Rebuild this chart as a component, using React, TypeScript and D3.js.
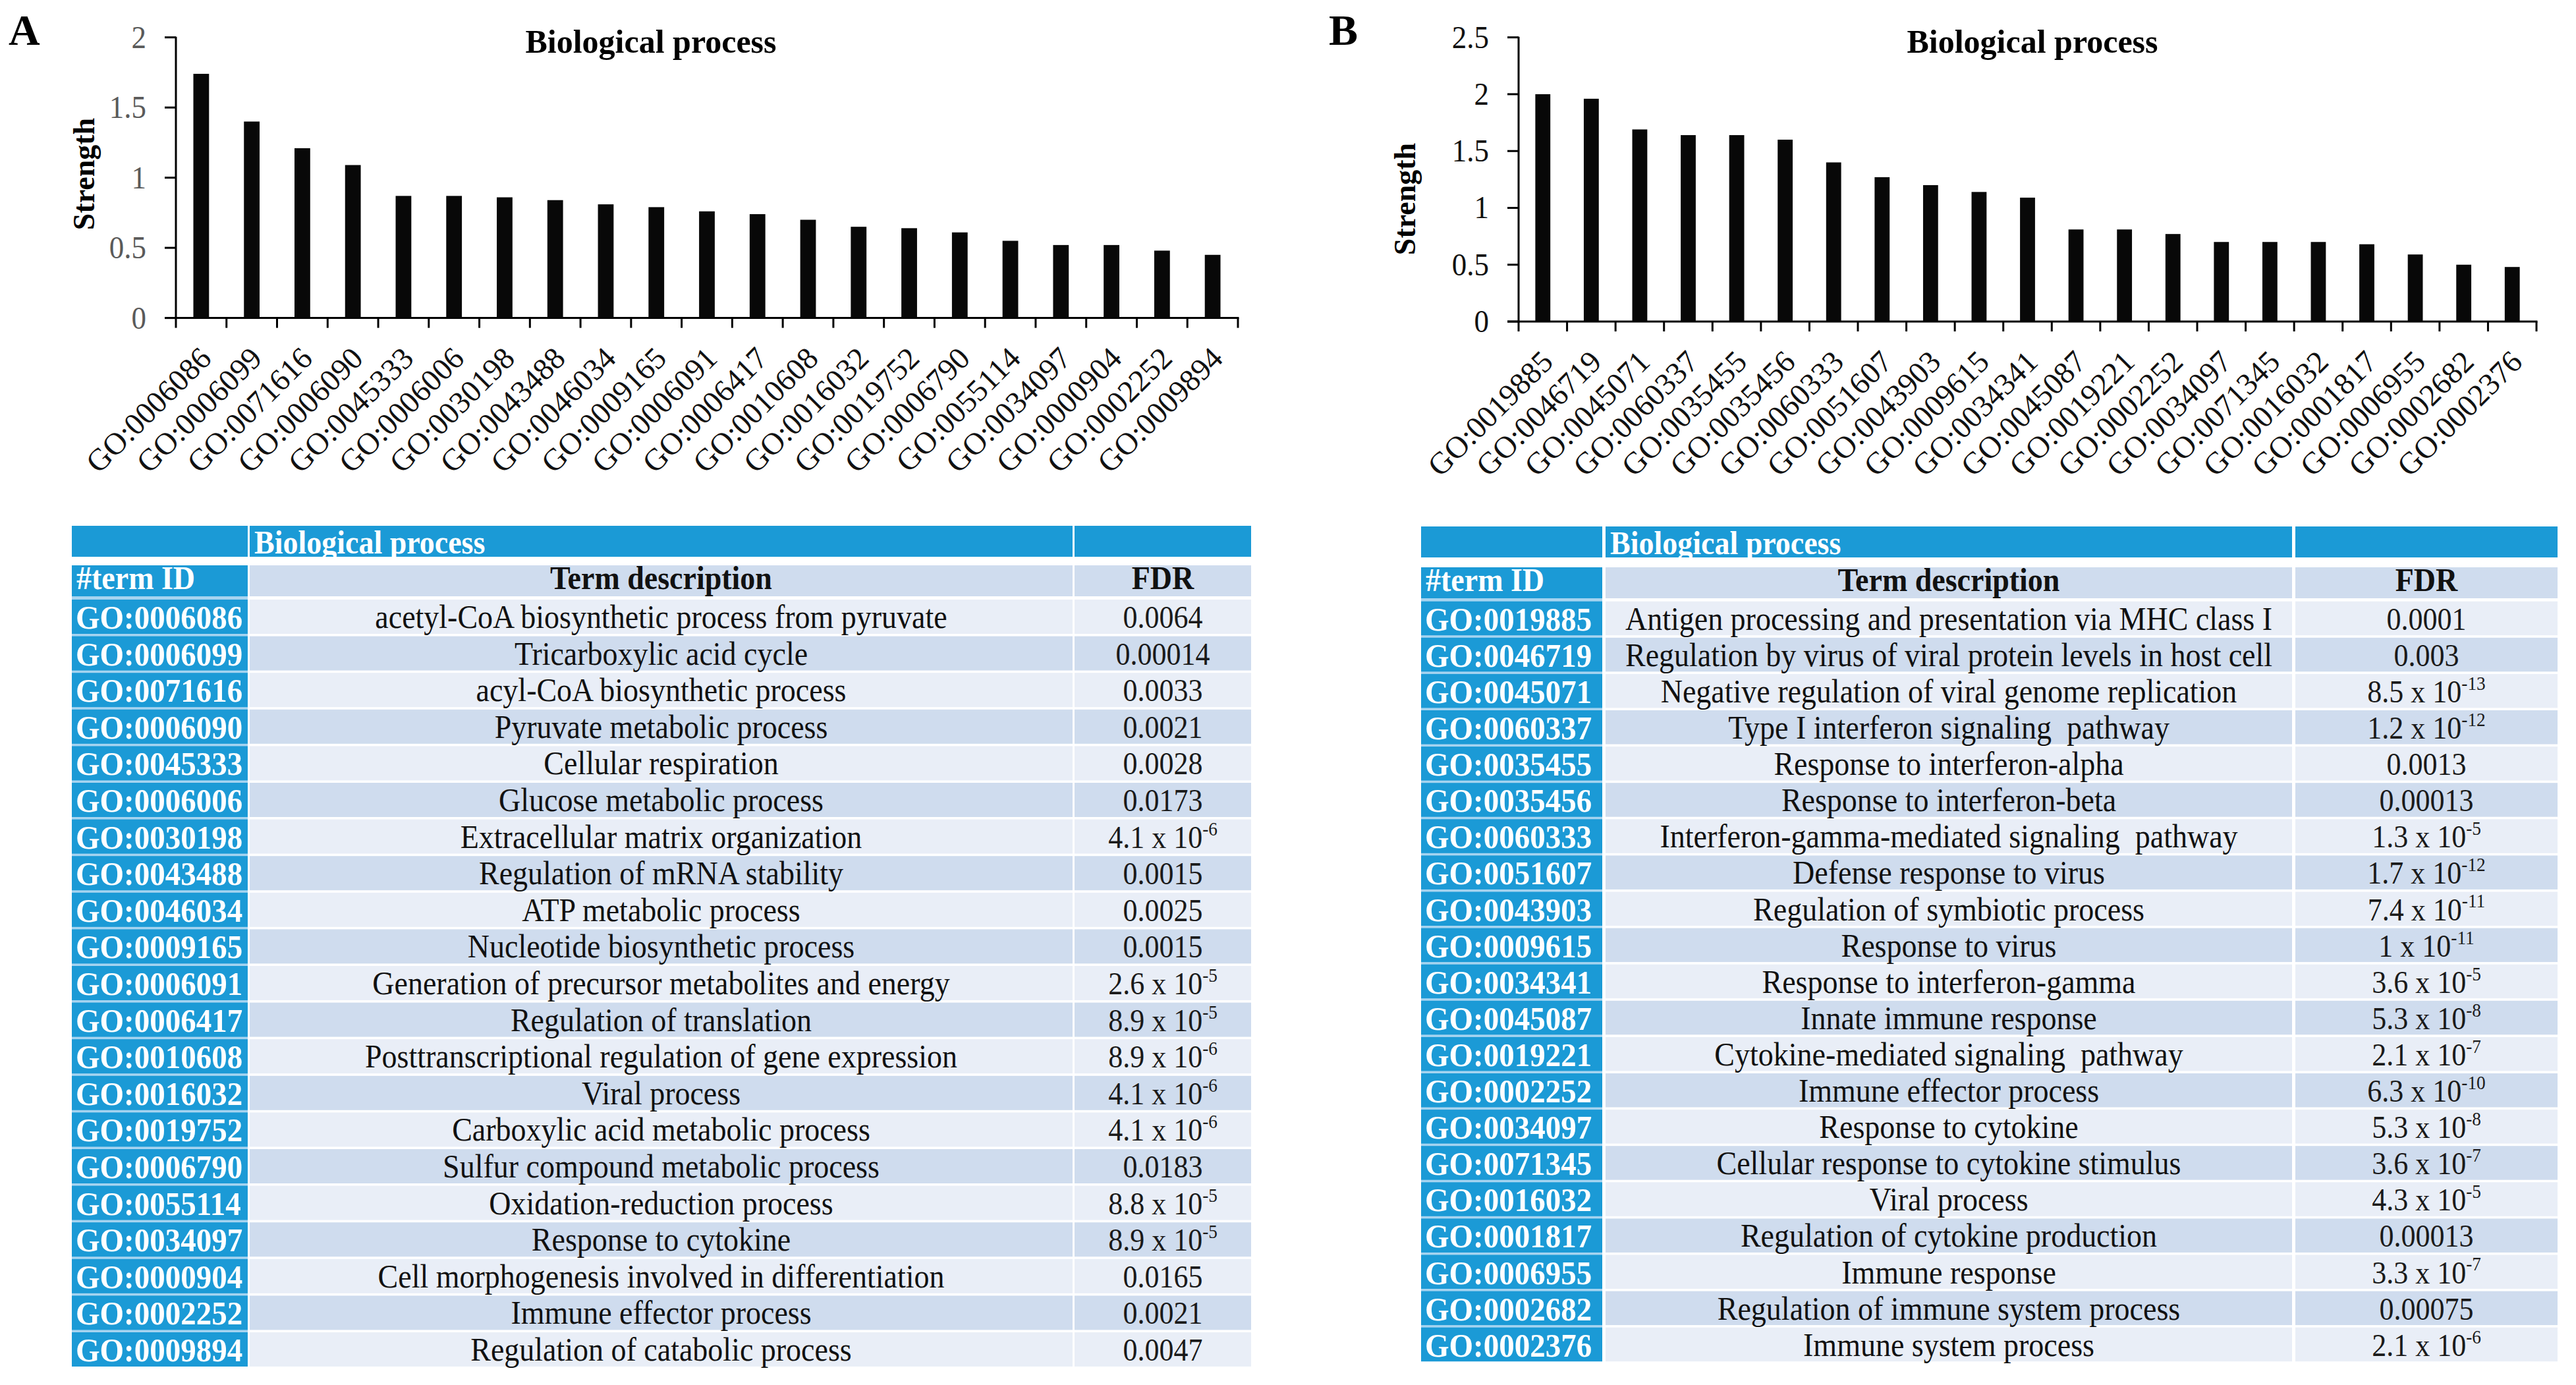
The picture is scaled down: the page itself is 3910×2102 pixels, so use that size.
import React from "react";
import * as d3 from "d3";

// ---------------- DATA ----------------
const idsA = [
  "GO:0006086", "GO:0006099", "GO:0071616", "GO:0006090", "GO:0045333", "GO:0006006", "GO:0030198",
  "GO:0043488", "GO:0046034", "GO:0009165", "GO:0006091", "GO:0006417", "GO:0010608", "GO:0016032",
  "GO:0019752", "GO:0006790", "GO:0055114", "GO:0034097", "GO:0000904", "GO:0002252", "GO:0009894",
];
const strengthA = [1.74, 1.4, 1.21, 1.09, 0.87, 0.87, 0.86, 0.84, 0.81, 0.79, 0.76, 0.74, 0.7, 0.65, 0.64, 0.61, 0.55, 0.52, 0.52, 0.48, 0.45];
const descA = [
  "acetyl-CoA biosynthetic process from pyruvate", "Tricarboxylic acid cycle", "acyl-CoA biosynthetic process",
  "Pyruvate metabolic process", "Cellular respiration", "Glucose metabolic process", "Extracellular matrix organization",
  "Regulation of mRNA stability", "ATP metabolic process", "Nucleotide biosynthetic process",
  "Generation of precursor metabolites and energy", "Regulation of translation",
  "Posttranscriptional regulation of gene expression", "Viral process", "Carboxylic acid metabolic process",
  "Sulfur compound metabolic process", "Oxidation-reduction process", "Response to cytokine",
  "Cell morphogenesis involved in differentiation", "Immune effector process", "Regulation of catabolic process",
];
const fdrA = [
  "0.0064", "0.00014", "0.0033", "0.0021", "0.0028", "0.0173", "4.1e-6", "0.0015", "0.0025", "0.0015",
  "2.6e-5", "8.9e-5", "8.9e-6", "4.1e-6", "4.1e-6", "0.0183", "8.8e-5", "8.9e-5", "0.0165", "0.0021", "0.0047",
];

const idsB = [
  "GO:0019885", "GO:0046719", "GO:0045071", "GO:0060337", "GO:0035455", "GO:0035456", "GO:0060333",
  "GO:0051607", "GO:0043903", "GO:0009615", "GO:0034341", "GO:0045087", "GO:0019221", "GO:0002252",
  "GO:0034097", "GO:0071345", "GO:0016032", "GO:0001817", "GO:0006955", "GO:0002682", "GO:0002376",
];
const strengthB = [2.0, 1.96, 1.69, 1.64, 1.64, 1.6, 1.4, 1.27, 1.2, 1.14, 1.09, 0.81, 0.81, 0.77, 0.7, 0.7, 0.7, 0.68, 0.59, 0.5, 0.48];
const descB = [
  "Antigen processing and presentation via MHC class I", "Regulation by virus of viral protein levels in host cell",
  "Negative regulation of viral genome replication", "Type I interferon signaling  pathway",
  "Response to interferon-alpha", "Response to interferon-beta", "Interferon-gamma-mediated signaling  pathway",
  "Defense response to virus", "Regulation of symbiotic process", "Response to virus",
  "Response to interferon-gamma", "Innate immune response", "Cytokine-mediated signaling  pathway",
  "Immune effector process", "Response to cytokine", "Cellular response to cytokine stimulus", "Viral process",
  "Regulation of cytokine production", "Immune response", "Regulation of immune system process", "Immune system process",
];
const fdrB = [
  "0.0001", "0.003", "8.5e-13", "1.2e-12", "0.0013", "0.00013", "1.3e-5", "1.7e-12", "7.4e-11", "1e-11",
  "3.6e-5", "5.3e-8", "2.1e-7", "6.3e-10", "5.3e-8", "3.6e-7", "4.3e-5", "0.00013", "3.3e-7", "0.00075", "2.1e-6",
];

const yTicksA = [0, 0.5, 1, 1.5, 2];
const yTicksB = [0, 0.5, 1, 1.5, 2, 2.5];
const chartTitle = "Biological process";
const yAxisLabel = "Strength";
const tableTitle = "Biological process";
const headerId = "#term ID";
const headerDesc = "Term description";
const headerFdr = "FDR";

// ---------------- STYLE ----------------
const FONT = "'Liberation Serif', 'Times New Roman', Times, serif";
const BLUE = "#1b9ad6";
const BLUE_SEP = "#a6d4f0";
const LIGHT = "#e9eef7";
const DARK = "#cfdcee";

function T(props: any) {
  const { x, y, sy = 1.08, children, ...rest } = props;
  return (
    <text transform={`translate(${x},${y}) scale(1,${sy})`} fontFamily={FONT} {...rest}>
      {children}
    </text>
  );
}

function Fdr({ s, x, y, fs }: { s: string; x: number; y: number; fs: number }) {
  if (s.includes("e")) {
    const [m, e] = s.split("e");
    return (
      <T x={x} y={y} fontSize={fs} textAnchor="middle" fill="#1a1a1a">
        {`${m} x 10`}
        <tspan fontSize={fs * 0.62} dy={-fs * 0.4}>{e}</tspan>
      </T>
    );
  }
  return (
    <T x={x} y={y} fontSize={fs} textAnchor="middle" fill="#1a1a1a">
      {s}
    </T>
  );
}

interface ChartProps {
  ids: string[];
  values: number[];
  ticks: number[];
  x0: number;
  x1: number;
  yTop: number;
  yZero: number;
  tickColor: string;
  titleX: number;
  panel: string;
  panelX: number;
  labelX: number;
  labelY: number;
}

function BarChart(p: ChartProps) {
  const yMax = p.ticks[p.ticks.length - 1];
  const x = d3.scaleBand<string>().domain(p.ids).range([p.x0, p.x1]).padding(0);
  const y = d3.scaleLinear().domain([0, yMax]).range([p.yZero, p.yTop]);
  const bw = x.bandwidth();
  const barW = bw * 0.31;
  const boundaries = p.ids.map((id) => x(id) as number).concat([p.x1]);
  return (
    <g>
      <text x={p.panelX} y={68} fontFamily={FONT} fontWeight="bold" fontSize={66}>
        {p.panel}
      </text>
      <text x={p.titleX} y={80} fontFamily={FONT} fontWeight="bold" fontSize={50} textAnchor="middle">
        {chartTitle}
      </text>
      <text
        transform={`translate(${p.labelX},${p.labelY}) rotate(-90)`}
        fontFamily={FONT}
        fontWeight="bold"
        fontSize={46}
        textAnchor="middle"
      >
        {yAxisLabel}
      </text>
      {p.ids.map((id, i) => (
        <rect
          key={id}
          x={(x(id) as number) + bw / 2 - barW / 2}
          y={y(p.values[i])}
          width={barW}
          height={p.yZero - y(p.values[i])}
          fill="#080808"
        />
      ))}
      {/* y axis */}
      <line x1={p.x0} x2={p.x0} y1={p.yTop - 1} y2={p.yZero + 1.5} stroke="#000" strokeWidth={3} />
      {p.ticks.map((t) => (
        <g key={t}>
          <line x1={p.x0 - 17} x2={p.x0} y1={y(t)} y2={y(t)} stroke="#000" strokeWidth={3} />
          <T x={p.x0 - 45} y={y(t) + 16} sy={1.1} fontSize={45} textAnchor="end" fill={p.tickColor}>
            {String(t)}
          </T>
        </g>
      ))}
      {/* x axis */}
      <line x1={p.x0 - 17} x2={p.x1 + 1.5} y1={p.yZero} y2={p.yZero} stroke="#000" strokeWidth={3} />
      {boundaries.map((bx, i) => (
        <line key={i} x1={bx} x2={bx} y1={p.yZero} y2={p.yZero + 15} stroke="#000" strokeWidth={3} />
      ))}
      {p.ids.map((id) => {
        const cx = (x(id) as number) + bw / 2;
        return (
          <text
            key={id}
            transform={`translate(${cx + 18},${p.yZero + 64}) rotate(-45)`}
            fontFamily={FONT}
            fontSize={47}
            textAnchor="end"
            fill="#111"
          >
            {id}
          </text>
        );
      })}
    </g>
  );
}

interface TableProps {
  ids: string[];
  desc: string[];
  fdr: string[];
  left: number;
  idRight: number;
  descLeft: number;
  descRight: number;
  fdrLeft: number;
  right: number;
  h1Top: number;
  h2Top: number;
  rowTop: number;
  pitch: number;
}

function Table(p: TableProps) {
  const rowH = p.pitch - 3.6;
  const hH = 47;
  const rows = d3.range(p.ids.length);
  const yRow = d3.scaleLinear().domain([0, 1]).range([p.rowTop, p.rowTop + p.pitch]);
  const descC = (p.descLeft + p.descRight) / 2;
  const fdrC = (p.fdrLeft + p.right) / 2;
  const lastBottom = yRow(p.ids.length - 1) + rowH;
  return (
    <g>
      {/* header 1 */}
      <rect x={p.left} y={p.h1Top} width={p.idRight - p.left} height={hH} fill={BLUE} />
      <rect x={p.descLeft} y={p.h1Top} width={p.descRight - p.descLeft} height={hH} fill={BLUE} />
      <rect x={p.fdrLeft} y={p.h1Top} width={p.right - p.fdrLeft} height={hH} fill={BLUE} />
      <T x={p.descLeft + 7} y={p.h1Top + 42} fontSize={46} fontWeight="bold" fill="#fff">
        {tableTitle}
      </T>
      {/* ID column separator background */}
      <rect x={p.left} y={p.h2Top} width={p.idRight - p.left} height={lastBottom - p.h2Top} fill={BLUE_SEP} />
      {/* header 2 */}
      <rect x={p.left} y={p.h2Top} width={p.idRight - p.left} height={hH} fill={BLUE} />
      <rect x={p.descLeft} y={p.h2Top} width={p.descRight - p.descLeft} height={hH} fill={DARK} />
      <rect x={p.fdrLeft} y={p.h2Top} width={p.right - p.fdrLeft} height={hH} fill={DARK} />
      <T x={p.left + 7} y={p.h2Top + 36} fontSize={46} fontWeight="bold" fill="#fff">
        {headerId}
      </T>
      <T x={descC} y={p.h2Top + 36} fontSize={46} fontWeight="bold" textAnchor="middle" fill="#111">
        {headerDesc}
      </T>
      <T x={fdrC} y={p.h2Top + 36} fontSize={46} fontWeight="bold" textAnchor="middle" fill="#111">
        {headerFdr}
      </T>
      {rows.map((i) => {
        const top = yRow(i);
        const fill = i % 2 === 0 ? LIGHT : DARK;
        return (
          <g key={i}>
            <rect x={p.left} y={top} width={p.idRight - p.left} height={rowH} fill={BLUE} />
            <rect x={p.descLeft} y={top} width={p.descRight - p.descLeft} height={rowH} fill={fill} />
            <rect x={p.fdrLeft} y={top} width={p.right - p.fdrLeft} height={rowH} fill={fill} />
            <T x={p.left + 6} y={top + 44} fontSize={47} fontWeight="bold" fill="#fff">
              {p.ids[i]}
            </T>
            <T x={descC} y={top + 43} fontSize={46} textAnchor="middle" fill="#111" style={{ whiteSpace: "pre" }}>
              {p.desc[i]}
            </T>
            <Fdr s={p.fdr[i]} x={fdrC} y={top + 43} fs={44} />
          </g>
        );
      })}
    </g>
  );
}

export default function App() {
  return (
    <svg
      width={3910}
      height={2102}
      viewBox="0 0 3910 2102"
      style={{ position: "absolute", left: 0, top: 0, background: "#fff" }}
    >
      <rect x={0} y={0} width={3910} height={2102} fill="#fff" />
      <BarChart
        ids={idsA}
        values={strengthA}
        ticks={yTicksA}
        x0={267}
        x1={1879}
        yTop={56.7}
        yZero={482.6}
        tickColor="#5a5a5a"
        titleX={988}
        panel="A"
        panelX={13}
        labelX={143}
        labelY={264}
      />
      <BarChart
        ids={idsB}
        values={strengthB}
        ticks={yTicksB}
        x0={2305}
        x1={3850}
        yTop={56.7}
        yZero={488}
        tickColor="#111"
        titleX={3085}
        panel="B"
        panelX={2017}
        labelX={2148}
        labelY={302}
      />
      <Table
        ids={idsA}
        desc={descA}
        fdr={fdrA}
        left={109}
        idRight={376}
        descLeft={379}
        descRight={1628}
        fdrLeft={1631}
        right={1899}
        h1Top={798}
        h2Top={858}
        rowTop={910}
        pitch={55.6}
      />
      <Table
        ids={idsB}
        desc={descB}
        fdr={fdrB}
        left={2157}
        idRight={2432}
        descLeft={2437}
        descRight={3479}
        fdrLeft={3484}
        right={3882}
        h1Top={799}
        h2Top={861}
        rowTop={912.7}
        pitch={55.1}
      />
    </svg>
  );
}
